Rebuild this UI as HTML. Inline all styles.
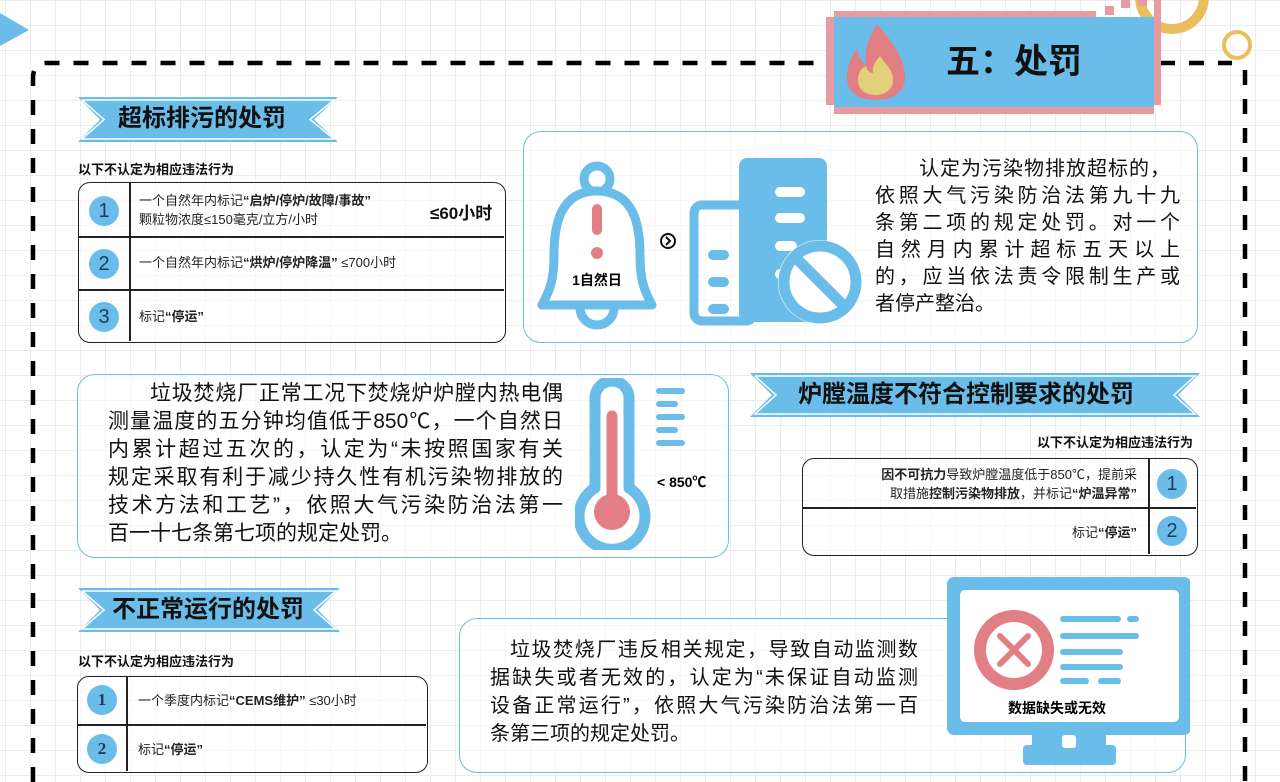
<!DOCTYPE html>
<html lang="zh-CN"><head><meta charset="utf-8">
<style>
*{margin:0;padding:0;box-sizing:border-box}
body{width:1280px;height:782px;overflow:hidden;position:relative;background:#fff;
background-image:linear-gradient(#ececec 1px,transparent 1px),linear-gradient(90deg,#ececec 1px,transparent 1px);
background-size:25px 25px;background-position:5px 0px;
font-family:"Liberation Sans","Noto Sans CJK SC",sans-serif;color:#111}
.a{position:absolute}
.card{position:absolute;border:1.5px solid #6bbde9;border-radius:18px;background:rgba(255,255,255,0.55)}
.ln{position:absolute;white-space:nowrap;text-align:justify;text-align-last:justify}
.sub{position:absolute;font-size:13px;font-weight:bold;white-space:nowrap}
.tbl{position:absolute;border:1.5px solid #222;border-radius:12px;background:rgba(255,255,255,.6)}
.num{position:absolute;width:30px;height:30px;border-radius:50%;background:#6bbde9;color:#1d3c5a;font-size:20px;text-align:center;line-height:30px}
.t{position:absolute;font-size:13px;white-space:nowrap;color:#222}
b{font-weight:bold}
</style></head><body>

<svg class="a" style="left:0;top:0" width="1280" height="782">
 <polygon points="0,13 29,30 0,46" fill="#6bbde9"/>
 <path d="M33,782 L33,78 Q33,64 45,63 L830,63" fill="none" stroke="#000" stroke-width="4.5" stroke-dasharray="15,14"/>
 <path d="M1160,63 L1232,63" fill="none" stroke="#000" stroke-width="4.5" stroke-dasharray="15,14"/>
 <path d="M1245,70 L1245,782" fill="none" stroke="#000" stroke-width="4.5" stroke-dasharray="15,14"/>
 <circle cx="1172" cy="-3" r="32" fill="none" stroke="#e8bf5c" stroke-width="10"/>
 <circle cx="1237" cy="45" r="13" fill="none" stroke="#e8bf5c" stroke-width="4"/>
 <rect x="834" y="11" width="262" height="7" fill="#e89aa3"/>
 <rect x="826" y="17" width="8" height="88" fill="#e89aa3"/>
 <rect x="1154" y="0" width="7" height="105" fill="#e89aa3"/>
 <rect x="834" y="107" width="320" height="7" fill="#e89aa3"/>
 <rect x="1105" y="6" width="9" height="9" fill="#e89aa3"/>
 <rect x="1121" y="0" width="9" height="8" fill="#e89aa3"/>
 <rect x="1138" y="0" width="9" height="6" fill="#e89aa3"/>
 <rect x="834" y="17" width="320" height="90" fill="#6bbde9"/>
 <path d="M877,24 C892,42 905,58 905,78 C905,92 893,100 876,100 C858,100 847,92 847,78 C847,64 852,55 858,48 C858,57 861,62 866,64 C864,48 870,36 877,24 Z" fill="#e27f84"/>
 <path d="M876,95 C864,95 858,88 858,80 C858,72 862,68 866,66 C867,71 870,73 873,73 C872,66 876,60 880,56 C884,63 893,69 893,80 C893,89 886,95 876,95 Z" fill="#e3d07a"/>
 <polygon points="78,97 338,97 314,119.5 338,142 78,142 100,119.5" fill="#6bbde9"/>
 <polyline points="82,100 334,100 310,119.5 334,139 82,139 104,119.5 82,100" fill="none" stroke="#fff" stroke-width="1.5"/>
 <polygon points="750,373 1200,373 1178,395 1200,417 750,417 772,395" fill="#6bbde9"/>
 <polyline points="755,376 1195,376 1174,395 1195,414 755,414 776,395 755,376" fill="none" stroke="#fff" stroke-width="1.5"/>
 <polygon points="78,588 340,588 318,610 340,632 78,632 100,610" fill="#6bbde9"/>
 <polyline points="82,591 336,591 314,610 336,629 82,629 104,610 82,591" fill="none" stroke="#fff" stroke-width="1.5"/>
</svg>

<div class="a" style="left:946px;top:38px;font-size:34px;font-weight:bold;white-space:nowrap;line-height:48px">五：处罚</div>

<div class="a" style="left:118px;top:101px;font-size:24px;font-weight:bold;line-height:36px;white-space:nowrap">超标排污的处罚</div>
<div class="sub" style="left:78px;top:159px">以下不认定为相应违法行为</div>

<div class="tbl" style="left:78px;top:182px;width:428px;height:161px">
 <div class="a" style="left:50px;top:0;width:1.5px;height:158px;background:#222"></div>
 <div class="a" style="left:0;top:53px;width:425px;height:1.5px;background:#222"></div>
 <div class="a" style="left:0;top:106px;width:425px;height:1.5px;background:#222"></div>
 <div class="num" style="left:10px;top:13px">1</div>
 <div class="num" style="left:10px;top:66px">2</div>
 <div class="num" style="left:10px;top:119px">3</div>
 <div class="t" style="left:60px;top:8px;line-height:19px">一个自然年内标记<b>“启炉/停炉/故障/事故”</b><br>颗粒物浓度≤150毫克/立方/小时</div>
 <div class="t" style="left:351px;top:16px;font-size:17px;font-weight:bold;color:#111">≤60小时</div>
 <div class="t" style="left:60px;top:70px;line-height:20px">一个自然年内标记<b>“烘炉/停炉降温”</b> ≤700小时</div>
 <div class="t" style="left:60px;top:124px;line-height:20px">标记<b>“停运”</b></div>
</div>

<div class="card" style="left:523px;top:131px;width:675px;height:212px"></div>
<svg class="a" style="left:530px;top:155px" width="340" height="180">
 <g fill="none" stroke="#6bbde9" stroke-width="9">
  <circle cx="67" cy="24" r="13"/>
  <path d="M67,36 C30,36 24,70 24,100 C24,125 20,135 12,150 L122,150 C114,135 110,125 110,100 C110,70 104,36 67,36 Z" fill="#fff" stroke-linejoin="round"/>
  <path d="M50,153 A17,17 0 0 0 84,153"/>
 </g>
 <line x1="67" y1="54" x2="67" y2="75" stroke="#e27f84" stroke-width="10" stroke-linecap="round"/>
 <circle cx="67" cy="98" r="6" fill="#e27f84"/>
 <text x="67" y="130" text-anchor="middle" font-size="14" font-weight="bold" font-family="Liberation Sans,Noto Sans CJK SC,sans-serif">1自然日</text>
 <circle cx="138" cy="86" r="7" fill="none" stroke="#111" stroke-width="2"/>
 <polyline points="136,82 140,86 136,90" fill="none" stroke="#111" stroke-width="2"/>
 <rect x="164" y="50" width="60" height="116" rx="8" fill="none" stroke="#6bbde9" stroke-width="9"/>
 <rect x="209" y="3" width="88" height="164" rx="8" fill="#6bbde9"/>
 <g stroke="#6bbde9" stroke-width="10" stroke-linecap="round">
  <line x1="183" y1="100" x2="194" y2="100"/><line x1="183" y1="127" x2="194" y2="127"/><line x1="183" y1="154" x2="194" y2="154"/>
 </g>
 <g stroke="#fff" stroke-width="10" stroke-linecap="round">
  <line x1="250" y1="37" x2="270" y2="37"/><line x1="250" y1="63" x2="270" y2="63"/><line x1="250" y1="91" x2="262" y2="91"/><line x1="250" y1="119" x2="258" y2="119"/>
 </g>
 <circle cx="290" cy="127" r="42" fill="#fff"/>
 <circle cx="290" cy="127" r="36" fill="none" stroke="#6bbde9" stroke-width="11"/>
 <line x1="266" y1="103" x2="314" y2="151" stroke="#6bbde9" stroke-width="11"/>
</svg>
<div style="position:absolute;left:875px;top:156px;width:305px;font-size:20px;line-height:27px;color:#111">
 <div class="ln" style="position:relative;padding-left:44px;text-align-last:auto;text-align:left;letter-spacing:1px">认定为污染物排放超标的，</div>
 <div class="ln" style="position:relative">依照大气污染防治法第九十九</div>
 <div class="ln" style="position:relative">条第二项的规定处罚。对一个</div>
 <div class="ln" style="position:relative">自然月内累计超标五天以上</div>
 <div class="ln" style="position:relative">的，应当依法责令限制生产或</div>
 <div class="ln" style="position:relative;text-align-last:auto">者停产整治。</div>
</div>

<div class="card" style="left:77px;top:374px;width:652px;height:184px"></div>
<div style="position:absolute;left:108px;top:380px;width:455px;font-size:21px;line-height:28px;color:#111">
 <div class="ln" style="position:relative;padding-left:42px">垃圾焚烧厂正常工况下焚烧炉炉膛内热电偶</div>
 <div class="ln" style="position:relative">测量温度的五分钟均值低于850℃，一个自然日</div>
 <div class="ln" style="position:relative">内累计超过五次的，认定为“未按照国家有关</div>
 <div class="ln" style="position:relative">规定采取有利于减少持久性有机污染物排放的</div>
 <div class="ln" style="position:relative">技术方法和工艺”，依照大气污染防治法第一</div>
 <div class="ln" style="position:relative;text-align-last:auto">百一十七条第七项的规定处罚。</div>
</div>
<svg class="a" style="left:575px;top:378px" width="145" height="172">
 <path d="M20,20 A17,17 0 0 1 54,20 L54,110 A33,33 0 1 1 20,110 Z" fill="#fff" stroke="#6bbde9" stroke-width="11" stroke-linejoin="round"/>
 <line x1="37" y1="38" x2="37" y2="120" stroke="#e27f84" stroke-width="11" stroke-linecap="round"/>
 <circle cx="37" cy="134" r="18" fill="#e27f84"/>
 <g stroke="#6bbde9" stroke-width="6" stroke-linecap="round">
  <line x1="84" y1="13" x2="107" y2="13"/><line x1="84" y1="26" x2="100" y2="26"/><line x1="84" y1="39" x2="107" y2="39"/><line x1="84" y1="52" x2="100" y2="52"/><line x1="84" y1="65" x2="107" y2="65"/>
 </g>
 <text x="82" y="109" font-size="14" font-weight="bold" font-family="Liberation Sans,Noto Sans CJK SC,sans-serif">&lt; 850℃</text>
</svg>

<div class="a" style="left:798px;top:377px;font-size:24px;font-weight:bold;line-height:36px;white-space:nowrap">炉膛温度不符合控制要求的处罚</div>
<div class="sub" style="right:87px;top:432px">以下不认定为相应违法行为</div>
<div class="tbl" style="left:802px;top:458px;width:396px;height:98px">
 <div class="a" style="left:345px;top:0;width:1.5px;height:95px;background:#222"></div>
 <div class="a" style="left:0;top:48px;width:393px;height:1.5px;background:#222"></div>
 <div class="num" style="left:354px;top:10px">1</div>
 <div class="num" style="left:354px;top:57px">2</div>
 <div class="t" style="right:60px;top:6px;line-height:19px;text-align:right"><b>因不可抗力</b>导致炉膛温度低于850℃，提前采<br>取措施<b>控制污染物排放</b>，并标记<b>“炉温异常”</b></div>
 <div class="t" style="right:60px;top:64px;line-height:20px">标记<b>“停运”</b></div>
</div>

<div class="a" style="left:112px;top:592px;font-size:24px;font-weight:bold;line-height:36px;white-space:nowrap">不正常运行的处罚</div>
<div class="sub" style="left:78px;top:651px">以下不认定为相应违法行为</div>
<div class="tbl" style="left:77px;top:676px;width:351px;height:97px">
 <div class="a" style="left:48px;top:0;width:1.5px;height:94px;background:#222"></div>
 <div class="a" style="left:0;top:47px;width:348px;height:1.5px;background:#222"></div>
 <div class="num" style="left:9px;top:8px;font-family:'Liberation Serif',serif;font-weight:bold;font-size:17px">1</div>
 <div class="num" style="left:9px;top:57px;font-family:'Liberation Serif',serif;font-weight:bold;font-size:17px">2</div>
 <div class="t" style="left:60px;top:14px;line-height:20px">一个季度内标记<b>“CEMS维护”</b> ≤30小时</div>
 <div class="t" style="left:60px;top:63px;line-height:20px">标记<b>“停运”</b></div>
</div>

<div class="card" style="left:459px;top:618px;width:727px;height:155px"></div>
<div style="position:absolute;left:490px;top:636px;width:428px;font-size:20px;line-height:28px;color:#111">
 <div class="ln" style="position:relative;padding-left:20px">垃圾焚烧厂违反相关规定，导致自动监测数</div>
 <div class="ln" style="position:relative">据缺失或者无效的，认定为“未保证自动监测</div>
 <div class="ln" style="position:relative">设备正常运行”，依照大气污染防治法第一百</div>
 <div class="ln" style="position:relative;text-align-last:auto">条第三项的规定处罚。</div>
</div>
<svg class="a" style="left:930px;top:570px" width="260" height="212">
 <rect x="17" y="7" width="244" height="158" rx="7" fill="#6bbde9"/>
 <rect x="30" y="20" width="219" height="132" rx="5" fill="#fff"/>
 <rect x="102" y="165" width="74" height="12" fill="#6bbde9"/>
 <rect x="93" y="175" width="93" height="20" rx="4" fill="#6bbde9"/>
 <rect x="132" y="165" width="14" height="13" rx="3" fill="#fff"/>
 <circle cx="84" cy="80" r="34" fill="none" stroke="#e27f84" stroke-width="12"/>
 <g stroke="#e27f84" stroke-width="6" stroke-linecap="round">
  <line x1="70" y1="66" x2="98" y2="94"/><line x1="98" y1="66" x2="70" y2="94"/>
 </g>
 <g stroke="#6bbde9" stroke-width="6" stroke-linecap="round">
  <line x1="133" y1="49" x2="188" y2="49"/><line x1="200" y1="49" x2="206" y2="49"/>
  <line x1="133" y1="66" x2="206" y2="66"/>
  <line x1="133" y1="82" x2="190" y2="82"/>
  <line x1="133" y1="97" x2="190" y2="97"/>
  <line x1="133" y1="111" x2="156" y2="111"/><line x1="171" y1="111" x2="188" y2="111"/>
 </g>
 <text x="127" y="143" text-anchor="middle" font-size="14" font-weight="bold" font-family="Liberation Sans,Noto Sans CJK SC,sans-serif">数据缺失或无效</text>
</svg>
</body></html>
